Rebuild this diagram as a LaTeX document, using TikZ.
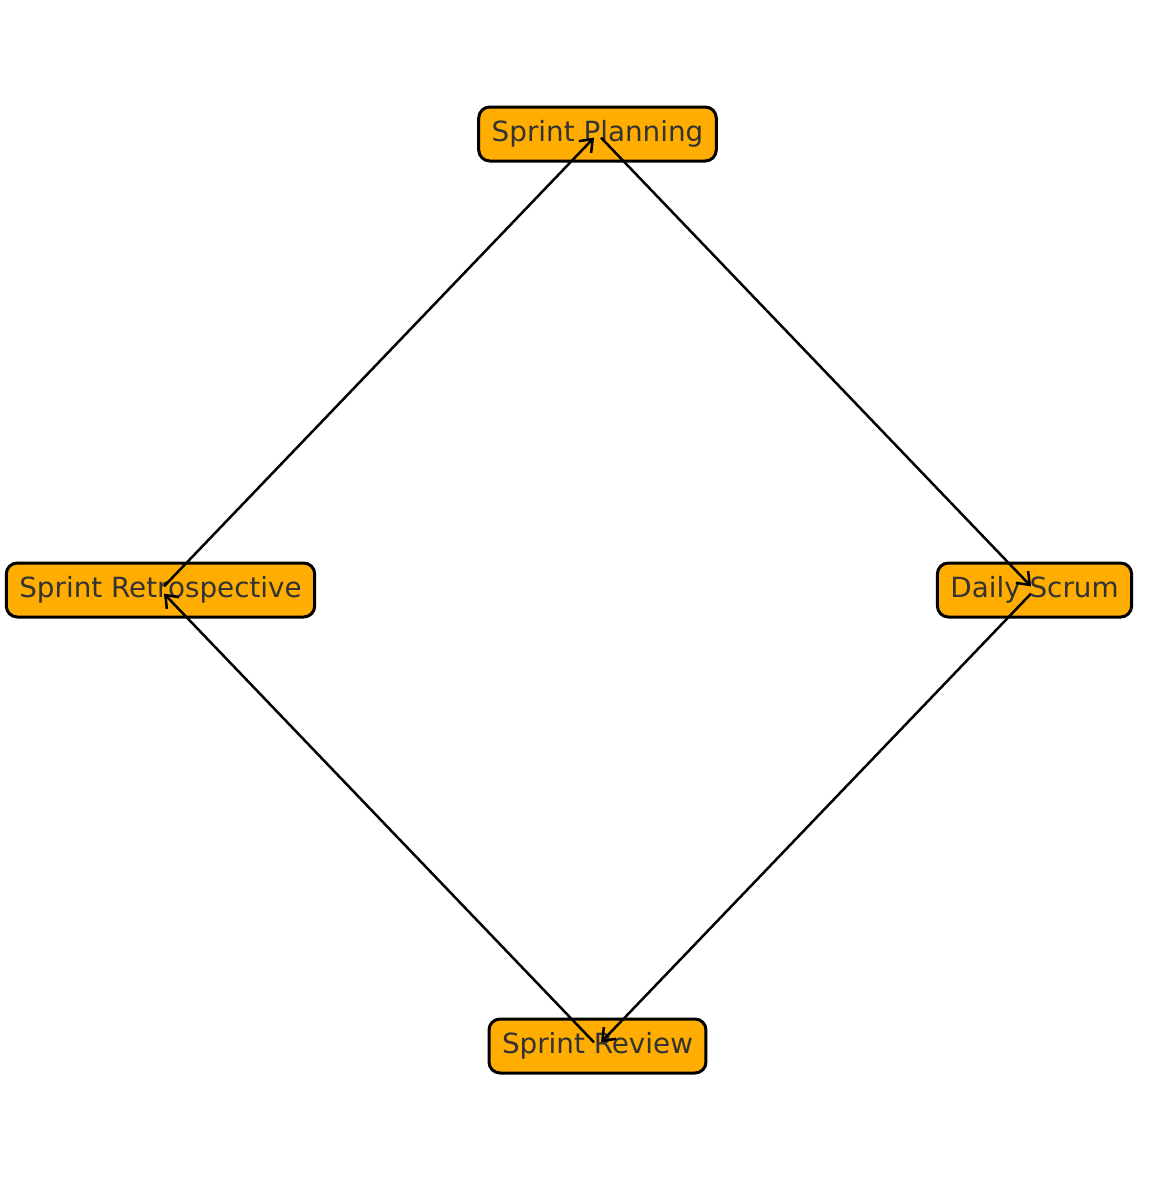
\documentclass[tikz,border=0pt]{standalone}
\usepackage{fontspec}
\setmainfont{DejaVu Sans}
\usepackage{xcolor}
\usepackage{tikz}
\usetikzlibrary{arrows.meta}
\definecolor{phasefill}{HTML}{FFAD00}
\definecolor{phasetext}{HTML}{333333}

\tikzset{
	phase/.style={draw=black,line width=1.5pt,fill=phasefill,rounded corners=5.5pt,
		text=phasetext,font=\fontsize{13.9}{16}\selectfont,inner xsep=6.5pt,
		minimum height=27pt},
	flow/.style={line width=1.25pt,-{Straight Barb[length=5.5pt,width=8.5pt,line width=1.25pt]},
		shorten <=2.5pt,shorten >=2.5pt}
}

\begin{document}
\begin{tikzpicture}[x=0.5pt,y=-0.5pt]
	\useasboundingbox (0,0) rectangle (1163,1180);
	\node[phase] (plan) at (597.5,134) {Sprint Planning};
	\node[phase] (daily) at (1034.5,590) {Daily Scrum};
	\node[phase] (review) at (597.5,1046) {Sprint Review};
	\node[phase] (retro) at (160.5,590) {Sprint Retrospective};
	% the cycle
	\draw[flow] (plan.center)--(daily.center);
	\draw[flow] (daily.center)--(review.center);
	\draw[flow] (review.center)--(retro.center);
	\draw[flow] (retro.center)--(plan.center);
\end{tikzpicture}
\end{document}
